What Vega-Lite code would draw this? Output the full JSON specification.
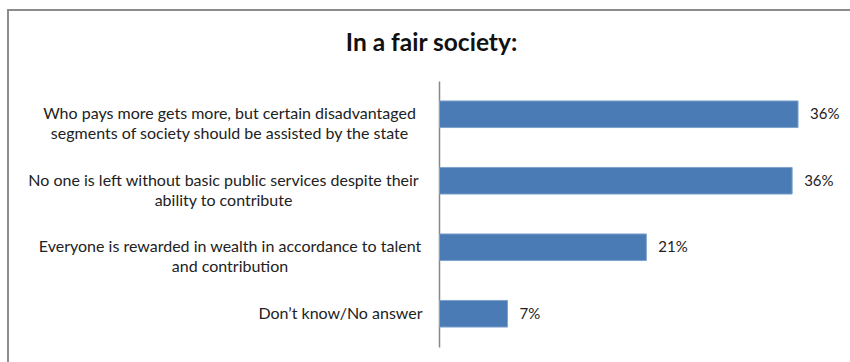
{
  "$schema": "https://vega.github.io/schema/vega-lite/v6.json",
  "width": 843,
  "height": 353,
  "autosize": {"type": "none"},
  "padding": {"left": 8, "top": 10, "right": 0, "bottom": 0},
  "background": "white",
  "config": {"view": {"stroke": "#8c8c8c", "strokeWidth": 2}, "font": "Lato"},
  "title": {"text": "In a fair society:", "fontSize": 24.5, "fontWeight": "bold", "font": "Lato", "color": "#111111", "anchor": "middle", "offset": -65, "baseline": "alphabetic", "dx": 2},
  "data": {"values": [
    {"answer": "Who pays more gets more, but certain disadvantaged|segments of society should be assisted by the state", "share": 0.364},
    {"answer": "No one is left without basic public services despite their|ability to contribute", "share": 0.358},
    {"answer": "Everyone is rewarded in wealth in accordance to talent|and contribution", "share": 0.21},
    {"answer": "Don’t know/No answer", "share": 0.069}
  ]},
  "layer": [
    {
      "mark": {"type": "bar", "color": "#4A7BB5", "stroke": "#7FA2CE", "strokeWidth": 1},
      "encoding": {
        "y": {"field": "answer", "type": "nominal", "sort": null,
          "scale": {"range": [71, 337], "paddingInner": 0.6, "paddingOuter": 0.3},
          "axis": {"title": null, "offset": -431, "ticks": false, "tickSize": 0, "domainColor": "#888888", "domainWidth": 1.5,
            "labelExpr": "split(datum.value, '|')", "labelAlign": "center", "labelBaseline": "middle", "labelLineHeight": 20,
            "labelFontSize": 16, "labelColor": "#222222", "labelLimit": 0,
            "labelPadding": {"condition": [
              {"test": "indexof(datum.value, 'Who pays') == 0", "value": 210},
              {"test": "indexof(datum.value, 'No one') == 0", "value": 216},
              {"test": "indexof(datum.value, 'Everyone') == 0", "value": 209.5}
            ], "value": 99}}},
        "x": {"field": "share", "type": "quantitative", "scale": {"domain": [0, 0.4], "range": [431.5, 825.5]}, "axis": null}
      }
    },
    {
      "mark": {"type": "text", "align": "left", "baseline": "middle", "dx": 12, "fontSize": 15, "color": "#222222"},
      "encoding": {
        "y": {"field": "answer", "type": "nominal", "sort": null},
        "x": {"field": "share", "type": "quantitative"},
        "text": {"field": "share", "type": "quantitative", "format": ".0%"}
      }
    }
  ]
}
